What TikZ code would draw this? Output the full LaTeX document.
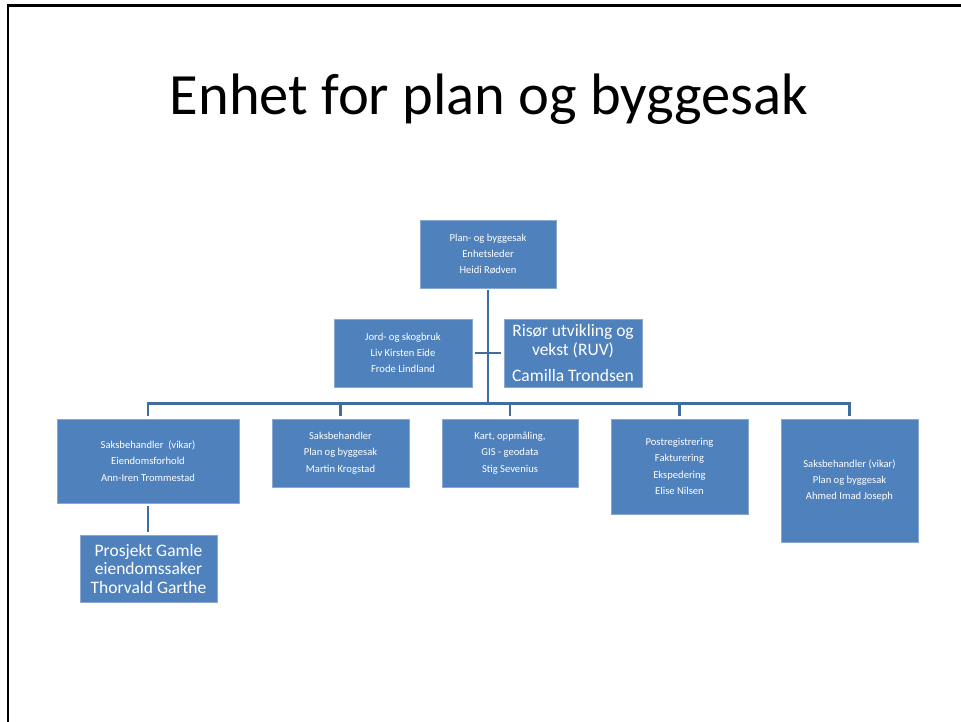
\documentclass[tikz,border=0pt]{standalone}
\usepackage{fontspec}
\setmainfont{Carlito}
\definecolor{boxblue}{HTML}{4F81BD}
\definecolor{boxedge}{HTML}{8AA8D2}
\definecolor{linkblue}{HTML}{3F6D9E}
\begin{document}
\begin{tikzpicture}[x=1pt,y=1pt,
  orgbox/.style={fill=boxblue,draw=boxedge,line width=0.8pt,text=white,align=center,inner sep=0pt,
    font=\fontsize{10.6}{16.3}\selectfont},
  bigtext/.style={font=\fontsize{17.5}{18.5}\selectfont},
  conn/.style={draw=linkblue,line width=2.6pt}]
\useasboundingbox (0,0) rectangle (961,-722);
\draw[line width=2.6pt,black] (8,-722) -- (8,-5.5) -- (961,-5.5);
\node[anchor=base,font=\fontsize{58.5}{60}\selectfont] (title) at (489,-115) {Enhet for plan og byggesak};

\node[orgbox,minimum width=136pt,minimum height=68pt] (top) at (488,-254) {Plan- og byggesak\\Enhetsleder\\Heidi Rødven};
\node[orgbox,minimum width=138pt,minimum height=68pt] (jord) at (403,-353) {Jord- og skogbruk\\Liv Kirsten Eide\\Frode Lindland};
\node[orgbox,bigtext,minimum width=138pt,minimum height=68pt] (ruv) at (573,-353) {Risør utvikling og\\vekst (RUV)\\[8pt]Camilla Trondsen};

\node[orgbox,minimum width=182pt,minimum height=84pt] (saks1) at (148,-461) {Saksbehandler\ \ (vikar)\\Eiendomsforhold\\Ann-Iren Trommestad};
\node[orgbox,minimum width=137pt,minimum height=68pt] (martin) at (340.5,-453) {Saksbehandler\\Plan og byggesak\\Martin Krogstad};
\node[orgbox,minimum width=136pt,minimum height=68pt] (kart) at (510,-453) {Kart, oppmåling,\\GIS - geodata\\Stig Sevenius};
\node[orgbox,minimum width=137pt,minimum height=95pt] (post) at (679.5,-466.5) {Postregistrering\\Fakturering\\Ekspedering\\Elise Nilsen};
\node[orgbox,minimum width=137pt,minimum height=123pt] (ahmed) at (849.5,-480.5) {Saksbehandler (vikar)\\Plan og byggesak\\Ahmed Imad Joseph};
\node[orgbox,bigtext,minimum width=137pt,minimum height=67pt] (prosj) at (148.5,-568.5) {Prosjekt Gamle\\eiendomssaker\\Thorvald Garthe};

\coordinate (bus) at (488,-403.5);
\draw[conn,shorten <=2pt] (top.south) -- (bus);
\draw[conn,shorten <=3pt,shorten >=3pt] (jord.east) -- (ruv.west);
\foreach \n in {saks1,martin,kart,post,ahmed}
  \draw[conn,line join=miter,shorten >=3pt] (bus) -| (\n.north);
\draw[conn,shorten <=3pt,shorten >=3pt] (saks1.south) -- (prosj.north -| saks1.south);
\end{tikzpicture}
\end{document}
